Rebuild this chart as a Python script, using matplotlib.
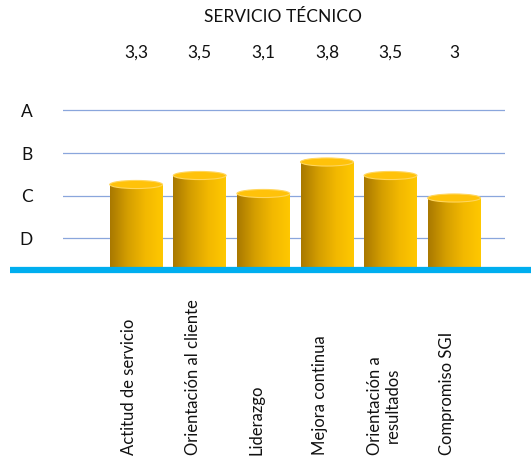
import numpy as np
import matplotlib.pyplot as plt
from matplotlib.patches import Rectangle, Ellipse
from matplotlib.colors import LinearSegmentedColormap
from matplotlib.transforms import blended_transform_factory

# Puntajes por competencia
categorias = ["Actitud de servicio", "Orientación al cliente", "Liderazgo",
              "Mejora continua", "Orientación a\nresultados", "Compromiso SGI"]
valores = [3.3, 3.5, 3.1, 3.8, 3.5, 3.0]
etiquetas_valor = ["3,3", "3,5", "3,1", "3,8", "3,5", "3"]
niveles = ["D", "C", "B", "A"]
pos_niveles = [2.1, 3.05, 4.0, 4.95]

base = 1.4
ancho = 0.83
alto_tapa = 0.18

plt.rcParams['font.family'] = ['Lato', 'DejaVu Sans']
plt.rcParams['text.color'] = '#111111'
plt.rcParams['ytick.color'] = '#111111'

fig = plt.figure(figsize=(5.31, 4.61), dpi=100)
ax = fig.add_axes([63 / 531, 191 / 461, 442 / 531, 170 / 461])

# degradado dorado de los cilindros
cmap = LinearSegmentedColormap.from_list("oro", ["#a87800", "#d49e00", "#f2b800", "#ffc800"])
grad = np.linspace(0, 1, 256).reshape(1, -1)

for i, v in enumerate(valores):
    x0 = i - ancho / 2
    cuerpo = Rectangle((x0, base), ancho, v - base, facecolor="none", edgecolor="none")
    ax.add_patch(cuerpo)
    im = ax.imshow(grad, cmap=cmap, extent=(x0, x0 + ancho, base, v),
                   aspect="auto", zorder=2, interpolation="bilinear")
    im.set_clip_path(cuerpo)
    tapa = Ellipse((i, v), ancho, alto_tapa, facecolor="#ffc20a",
                   edgecolor="#ffd65c", lw=0.8, zorder=3)
    ax.add_patch(tapa)

for y in pos_niveles:
    ax.axhline(y, color="#8aa6dc", lw=0.9, zorder=1)

ax.set_xlim(-1.15, 5.8)
ax.set_ylim(base, base + 170 / 45)
ax.set_yticks(pos_niveles)
ax.set_yticklabels(niveles, fontsize=12.5)
ax.tick_params(axis="y", length=0, pad=22)
ax.set_xticks([])
for s in ax.spines.values():
    s.set_visible(False)

# línea base azul
ax.plot([-0.12, 1.06], [0.0, 0.0], transform=ax.transAxes, color="#00aeef",
        lw=4.5, clip_on=False, zorder=5, solid_capstyle="butt")

trans = blended_transform_factory(ax.transData, fig.transFigure)
for i, t in enumerate(etiquetas_valor):
    ax.text(i, 1 - 53 / 461, t, transform=trans, ha="center", va="center",
            fontsize=12.5)

for i, c in enumerate(categorias):
    ax.annotate(c, xy=(i, 6 / 461), xycoords=trans, xytext=(-5, 0),
                textcoords="offset points", rotation=90, ha="center", va="bottom",
                fontsize=12, linespacing=1.15)

fig.text(283 / 531, 1 - 17 / 461, "SERVICIO TÉCNICO", ha="center", va="center",
         fontsize=12.5)

fig.savefig("out.png", dpi=100)
